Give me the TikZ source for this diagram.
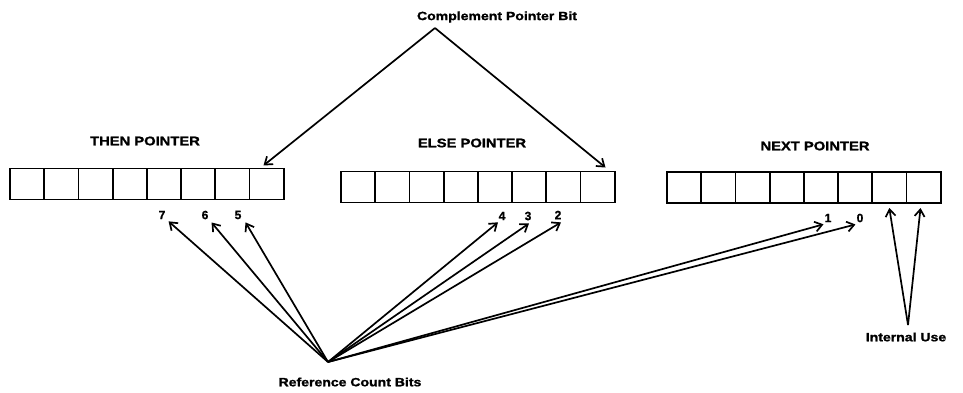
\documentclass[tikz,border=0pt]{standalone}
\usepackage{fontspec}
\setmainfont{Liberation Sans}[BoldFeatures={FakeBold=1.2}]
\usetikzlibrary{arrows.meta,calc}
\tikzset{
  cell/.style={draw, line width=1.8pt, minimum width=34.2pt, minimum height=31pt, inner sep=0pt, outer sep=0pt},
  title/.style={font=\bfseries\fontsize{12.5}{14}\selectfont, inner sep=1pt},
  lbl/.style={font=\bfseries\fontsize{12}{13}\selectfont, inner sep=1pt},
  num/.style={font=\bfseries\fontsize{12}{13}\selectfont, inner sep=1pt},
  arr/.style={line width=1.7pt, -{Straight Barb[length=7pt,width=10pt,line width=1.7pt]}},
}
\begin{document}
\begin{tikzpicture}[x=1pt,y=-1pt]
\useasboundingbox (0,0) rectangle (963,393);
% registers
\foreach \i in {1,...,8} {
  \node[cell] (t\i) at ({10+17.1+(\i-1)*34.2},184) {};
  \node[cell] (e\i) at ({341+17.1+(\i-1)*34.2},187) {};
  \node[cell] (n\i) at ({667+17.1+(\i-1)*34.2},187.5) {};
}
% titles
\node[title] (tt) at (145,141) {\scalebox{1.18}[1]{THEN POINTER}};
\node[title] (et) at (472,143) {\scalebox{1.18}[1]{ELSE POINTER}};
\node[title] (nt) at (815,146) {\scalebox{1.18}[1]{NEXT POINTER}};
% numbers
\node[num] (l7) at (162,215) {7};
\node[num] (l6) at (205,215) {6};
\node[num] (l5) at (238,215) {5};
\node[num] (l4) at (502,216) {4};
\node[num] (l3) at (528,216) {3};
\node[num] (l2) at (558,215) {2};
\node[num] (l1) at (828,218) {1};
\node[num] (l0) at (860,218) {0};
% labels
\node[lbl] (cpb) at (497,17) {\scalebox{1.17}[1]{Complement Pointer Bit}};
\coordinate (cp) at (435,28);
\node[lbl] (rcb) at (350,382) {\scalebox{1.17}[1]{Reference Count Bits}};
\coordinate (rc) at (328,362);
\node[lbl] (iub) at (906,337) {\scalebox{1.17}[1]{Internal Use}};
\coordinate (iu) at (908,325);
% complement arrows
\draw[arr] (cp) -- ($(t8.north)+(-3,-3)$);
\draw[arr] (cp) -- ($(e8.north)+(8,-4)$);
% reference count arrows
\draw[arr] (rc) -- ($(l7.south east)+(2,1)$);
\draw[arr] (rc) -- ($(l6.south east)+(2,2)$);
\draw[arr] (rc) -- ($(l5.south east)+(3,2)$);
\draw[arr] (rc) -- ($(l4.south)+(-4,1)$);
\draw[arr] (rc) -- ($(l3.south)+(1,2)$);
\draw[arr] (rc) -- ($(l2.south)+(3,2)$);
\draw[arr] (rc) -- ($(l1.south west)+(0,1)$);
\draw[arr] (rc) -- ($(l0.south west)+(0,1)$);
% internal use arrows
\draw[arr] (iu) -- ($(n7.south)+(0,5)$);
\draw[arr] (iu) -- ($(n8.south)+(-3,5)$);
\end{tikzpicture}
\end{document}
